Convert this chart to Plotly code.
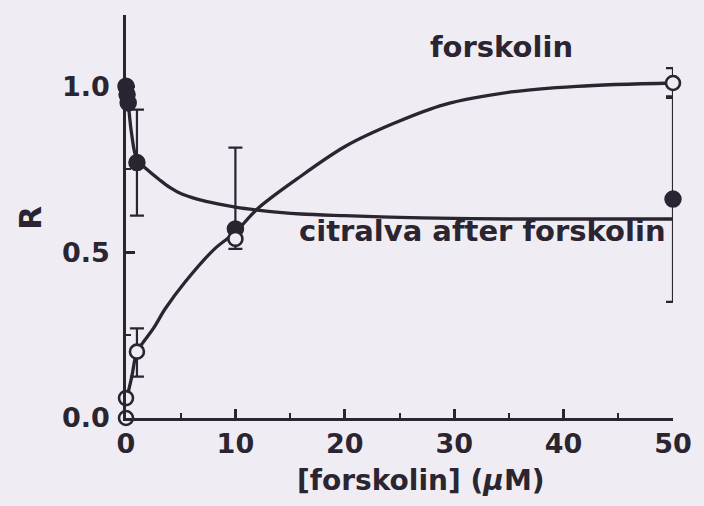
import plotly.graph_objects as go

# Ink and paper colours
INK = "#2b2431"
PAPER = "#efedf3"
FONT = "DejaVu Sans"

# Citralva response after forskolin pre-treatment (filled circles)
citr_x = [0, 0.1, 0.2, 1, 10, 50]
citr_r = [1.0, 0.975, 0.95, 0.77, 0.57, 0.66]
citr_err_up = [0, 0, 0, 0.16, 0.245, 0.31]
citr_err_dn = [0, 0, 0, 0.16, 0, 0.31]

# Forskolin response (open circles)
forsk_x = [0, 0, 1, 10, 50]
forsk_r = [0.0, 0.06, 0.20, 0.54, 1.01]
forsk_err_up = [0, 0, 0.07, 0.03, 0.045]
forsk_err_dn = [0, 0, 0.075, 0.03, 0.045]

# Fitted curves
citr_fit_x = [0, 0.2, 0.5, 1, 1.9, 3, 4, 5.1, 6.5, 8.5, 10, 12, 14, 16, 20, 25, 30, 35, 42, 50]
citr_fit_r = [1.0, 0.95, 0.86, 0.78, 0.75, 0.72, 0.695, 0.675, 0.66, 0.645, 0.636, 0.627,
              0.62, 0.615, 0.61, 0.605, 0.602, 0.60, 0.60, 0.60]
forsk_fit_x = [0, 0.5, 1, 1.5, 2.5, 3.6, 5.4, 8.1, 10, 12, 15.6, 20.1, 24.6, 29.1, 35.2, 41.2, 50]
forsk_fit_r = [0.05, 0.12, 0.20, 0.225, 0.27, 0.33, 0.41, 0.51, 0.56, 0.63, 0.72, 0.82,
               0.89, 0.945, 0.983, 1.0, 1.01]

x_ticks = [0, 10, 20, 30, 40, 50]
x_minor = [5, 15, 25, 35, 45]
y_ticks = [0, 0.5, 1.0]
y_labels = ["0.0", "0.5", "1.0"]
y_minor = [0.25, 0.75]

fig = go.Figure()

for fx, fy in ((citr_fit_x, citr_fit_r), (forsk_fit_x, forsk_fit_r)):
    fig.add_trace(go.Scatter(
        x=fx, y=fy, mode="lines", cliponaxis=False, hoverinfo="skip",
        line=dict(color=INK, width=3.3, shape="spline", smoothing=1.0),
    ))

fig.add_trace(go.Scatter(
    x=citr_x, y=citr_r, mode="markers", cliponaxis=False,
    marker=dict(size=16, color=INK, line=dict(color=INK, width=1.5)),
    error_y=dict(type="data", symmetric=False, array=citr_err_up,
                 arrayminus=citr_err_dn, color=INK, thickness=2.2, width=7),
))

fig.add_trace(go.Scatter(
    x=forsk_x, y=forsk_r, mode="markers", cliponaxis=False,
    marker=dict(size=14, color=PAPER, line=dict(color=INK, width=2.6)),
    error_y=dict(type="data", symmetric=False, array=forsk_err_up,
                 arrayminus=forsk_err_dn, color=INK, thickness=2.2, width=7),
))

label_font = dict(family=FONT, size=29, color=INK, weight="bold")

fig.add_annotation(x=34.35, y=1.12, xref="x", yref="y", text="forskolin",
                   showarrow=False, font=label_font, xanchor="center", yanchor="middle")
fig.add_annotation(x=32.6, y=0.563, xref="x", yref="y", text="citralva after forskolin",
                   showarrow=False, font=label_font, xanchor="center", yanchor="middle")
fig.add_annotation(x=27.0, y=-0.155, xref="x", yref="paper", text="[forskolin] (<i>µ</i>M)",
                   showarrow=False, font=dict(family=FONT, size=28, color=INK, weight="bold"),
                   xanchor="center", yanchor="middle")
fig.add_annotation(x=-0.176, y=0.496, xref="paper", yref="paper", text="R",
                   showarrow=False, textangle=-90,
                   font=dict(family=FONT, size=31, color=INK, weight="bold"),
                   xanchor="center", yanchor="middle")

tick_font = dict(family=FONT, size=27, color=INK, weight="bold")

fig.update_xaxes(
    range=[0, 50], tickvals=x_ticks, showline=True, linecolor=INK, linewidth=2.7,
    ticks="inside", ticklen=9, tickwidth=2.5, tickcolor=INK, tickfont=tick_font,
    ticklabelstandoff=0, showgrid=False, zeroline=False,
    minor=dict(tickvals=x_minor, ticks="inside", ticklen=5, tickwidth=2,
               tickcolor=INK, showgrid=False),
)
fig.update_yaxes(
    range=[0, 1.215], tickvals=y_ticks, ticktext=y_labels, showline=True,
    linecolor=INK, linewidth=2.7, ticks="inside", ticklen=9, tickwidth=2.5,
    tickcolor=INK, tickfont=tick_font, ticklabelstandoff=8, showgrid=False,
    zeroline=False,
    minor=dict(tickvals=y_minor, ticks="inside", ticklen=5, tickwidth=2,
               tickcolor=INK, showgrid=False),
)

fig.update_layout(
    width=704, height=506, showlegend=False,
    margin=dict(l=126, r=22, t=15, b=88),
    paper_bgcolor=PAPER, plot_bgcolor=PAPER,
)

fig.write_html("out.html")
